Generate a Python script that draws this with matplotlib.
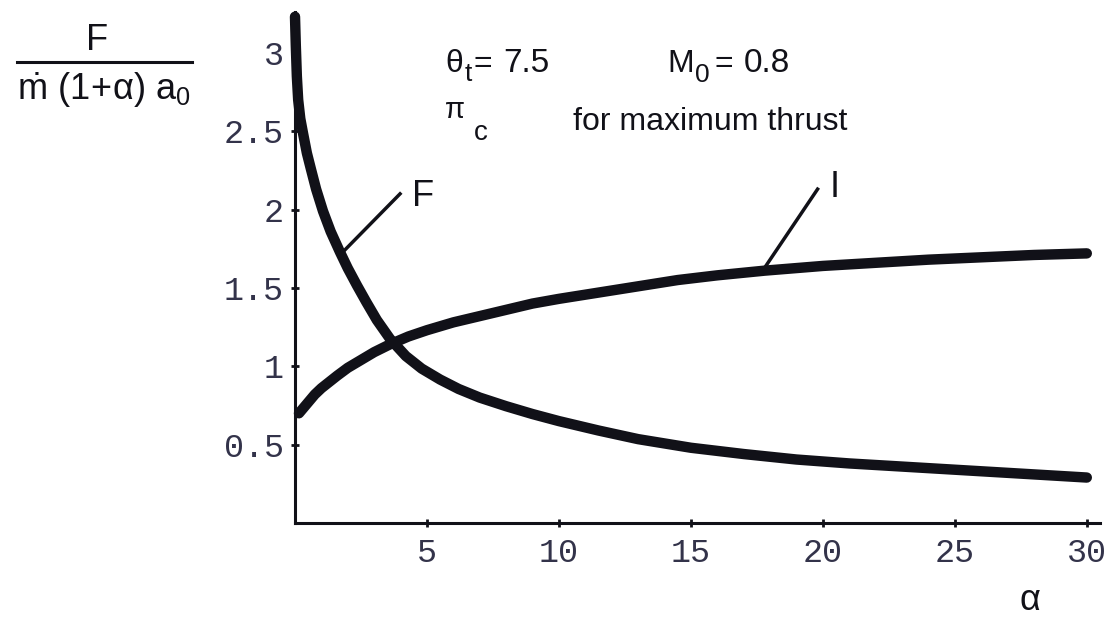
import matplotlib
matplotlib.use("Agg")
import matplotlib.pyplot as plt

# values
alpha_F = [0.0, 0.03, 0.07, 0.12, 0.2, 0.3, 0.45, 0.6, 0.8, 1.06, 1.35, 1.7, 2.0, 2.35, 2.7,
           3.1, 3.6, 4.2, 4.8, 5.5, 6.2, 7.0, 8.0, 9.0, 10.0, 11.5, 13.0, 15.0, 17.0, 19.0,
           21.0, 23.0, 25.0, 27.5, 30.0]
thrust_F = [3.23, 3.05, 2.85, 2.70, 2.58, 2.49, 2.36, 2.26, 2.13, 1.99, 1.86, 1.73, 1.625, 1.515, 1.41,
            1.295, 1.175, 1.065, 0.985, 0.915, 0.855, 0.80, 0.745, 0.695, 0.65, 0.59, 0.535, 0.48, 0.44, 0.405,
            0.38, 0.36, 0.34, 0.315, 0.29]

alpha_I = [0.15, 0.3, 0.5, 0.75, 1.0, 1.3, 1.6, 2.0, 2.5, 3.0, 3.6, 4.3, 5.0, 6.0, 7.0,
           8.0, 9.0, 10.0, 11.5, 13.0, 14.5, 16.0, 17.8, 20.0, 22.0, 24.0, 26.0, 28.0, 30.0]
impulse_I = [0.70, 0.73, 0.77, 0.82, 0.86, 0.90, 0.94, 0.99, 1.04, 1.09, 1.14, 1.19, 1.23, 1.28, 1.32,
             1.36, 1.40, 1.43, 1.47, 1.51, 1.55, 1.58, 1.61, 1.64, 1.66, 1.68, 1.695, 1.71, 1.72]

xticks = [5, 10, 15, 20, 25, 30]
yticks = [0.5, 1, 1.5, 2, 2.5, 3]
ytick_labels = ["0.5", "1", "1.5", "2", "2.5", "3"]

plt.rcParams['font.family'] = ['Liberation Sans', 'DejaVu Sans']
plt.rcParams['mathtext.fontset'] = 'custom'
plt.rcParams['mathtext.rm'] = 'Liberation Sans'
plt.rcParams['mathtext.it'] = 'Liberation Sans:italic'
plt.rcParams['mathtext.bf'] = 'Liberation Sans:bold'

W, H = 1117, 620
ink = '#111118'


def px(x, y):
    # pixel position (from top-left) -> figure fraction
    return x / W, 1 - y / H


fig = plt.figure(figsize=(W / 100, H / 100), dpi=100)
ax = fig.add_axes([295 / W, 97 / H, (1100 - 295) / W, 511 / H])

ax.plot(alpha_F, thrust_F, color=ink, lw=7.5, solid_capstyle='round', solid_joinstyle='round', clip_on=False)
ax.plot(alpha_I, impulse_I, color=ink, lw=7.5, solid_capstyle='round', solid_joinstyle='round', clip_on=False)

ax.set_xlim(0, 30.5)
ax.set_ylim(0, 3.26)

for side in ['top', 'right']:
    ax.spines[side].set_visible(False)
for side in ['left', 'bottom']:
    ax.spines[side].set_linewidth(2.2)
    ax.spines[side].set_color(ink)

ax.set_xticks(xticks)
ax.set_yticks(yticks)
ax.set_yticklabels(ytick_labels)
ax.tick_params(direction='inout', length=6, width=2, color=ink, labelcolor='#33334a')
ax.tick_params(axis='x', pad=8)
ax.tick_params(axis='y', pad=5)
for lab in ax.get_xticklabels() + ax.get_yticklabels():
    lab.set_family('Liberation Mono')
    lab.set_fontsize(24)

# leader lines and curve labels
ax.plot([1.82, 3.98], [1.73, 2.10], color=ink, lw=2.5, clip_on=False)
ax.text(4.85, 2.08, 'F', fontsize=26, ha='center', va='center', color=ink)
ax.plot([17.8, 19.8], [1.63, 2.13], color=ink, lw=2.5, clip_on=False)
ax.text(20.45, 2.14, 'I', fontsize=26, ha='center', va='center', color=ink)

# parameter notes, built from pieces so the big subscripts sit like the original
notes = [
    ('θ', 445, 72, 23), ('t', 465, 81, 19), ('=', 474, 72, 23), ('7.5', 503, 72, 24),
    ('M', 667, 72, 23), ('0', 695, 82, 19), ('=', 714, 72, 23), ('0.8', 744, 72, 24),
    ('π', 445, 118, 21), ('c', 474, 140, 20),
    ('for maximum thrust', 573, 130, 23),
]
for s, x, y, size in notes:
    fig.text(*px(x, y), s, fontsize=size, color=ink, va='baseline', ha='left')

# y label as a stacked fraction
fig.text(*px(97, 40), 'F', fontsize=26, ha='center', va='center', color=ink)
fig.add_artist(plt.Line2D([17 / W, 192 / W], [1 - 62 / H, 1 - 62 / H], color=ink, lw=2.2))
fig.text(*px(104, 90), r'$\mathregular{\dot{m}\ (1\!+\!\alpha)\ a_0}$', fontsize=26,
         ha='center', va='center', color=ink)

# x label
fig.text(*px(1030, 600), 'α', fontsize=26, ha='center', va='center', color=ink)

fig.savefig('out.png', dpi=100, facecolor='white')
